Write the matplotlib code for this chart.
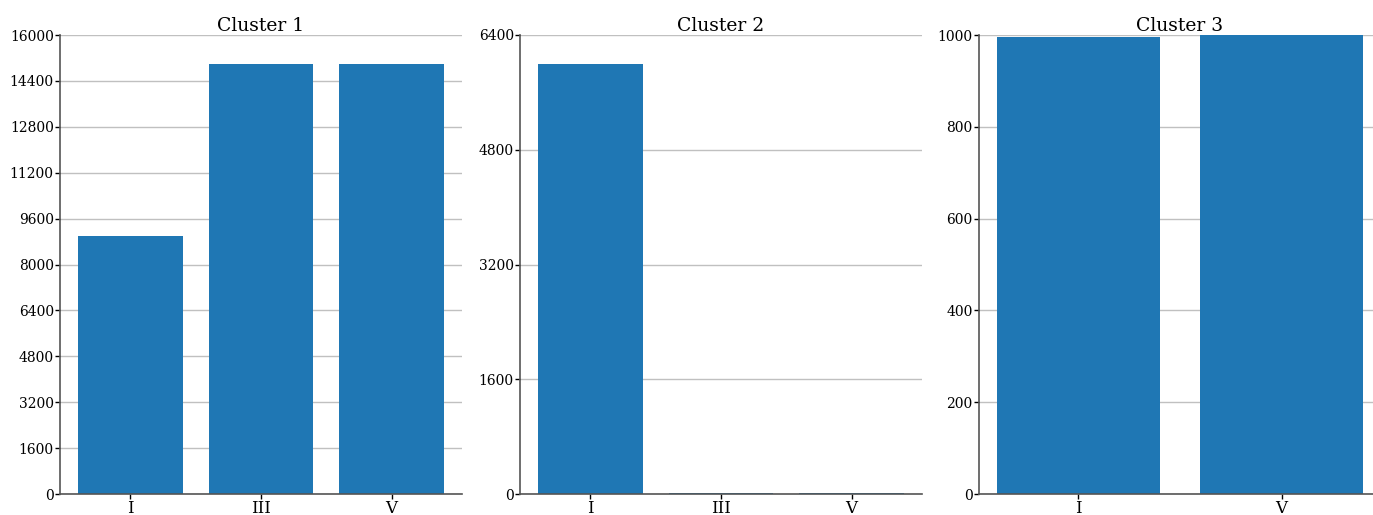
import matplotlib
matplotlib.use("Agg")
import matplotlib.pyplot as plt

plt.rcParams['font.family'] = ['DejaVu Serif']

# Counts per category in each cluster
cluster1_labels = ["I", "III", "V"]
cluster1_values = [9000, 15000, 15000]
cluster1_yticks = [0, 1600, 3200, 4800, 6400, 8000, 9600, 11200, 12800, 14400, 16000]

cluster2_labels = ["I", "III", "V"]
cluster2_values = [6000, 20, 20]
cluster2_yticks = [0, 1600, 3200, 4800, 6400]

cluster3_labels = ["I", "V"]
cluster3_values = [995, 1002]
cluster3_yticks = [0, 200, 400, 600, 800, 1000]

titles = ["Cluster 1", "Cluster 2", "Cluster 3"]
W, H = 1373, 515
fig = plt.figure(figsize=(W / 100, H / 100), dpi=100)

panels = [
    (cluster1_labels, cluster1_values, cluster1_yticks, 60),
    (cluster2_labels, cluster2_values, cluster2_yticks, 520),
    (cluster3_labels, cluster3_values, cluster3_yticks, 979),
]

for (labels, values, yticks, left_px), title in zip(panels, titles):
    ax = fig.add_axes([left_px / W, (H - 494) / H, 402 / W, (494 - 35) / H])
    ax.bar(range(len(labels)), values, width=0.8, color="#1f77b4", zorder=2)
    ax.set_xticks(range(len(labels)))
    ax.set_xticklabels(labels, fontsize=12)
    ax.set_yticks(yticks)
    ax.set_yticklabels([str(t) for t in yticks], fontsize=10)
    ax.set_ylim(0, yticks[-1])
    ax.yaxis.grid(True, color="#c0c0c0", linewidth=1, zorder=0)
    ax.set_axisbelow(True)
    for s in ("top", "right"):
        ax.spines[s].set_visible(False)
    for s in ("left", "bottom"):
        ax.spines[s].set_color("#555555")
        ax.spines[s].set_linewidth(1.2)
    ax.tick_params(axis="x", length=3.5, width=1, color="black", pad=0.5)
    ax.tick_params(axis="y", length=3.5, width=1, color="black", pad=1)
    ax.set_title(title, fontsize=13.5, pad=2)

fig.savefig("out.png", dpi=100)
